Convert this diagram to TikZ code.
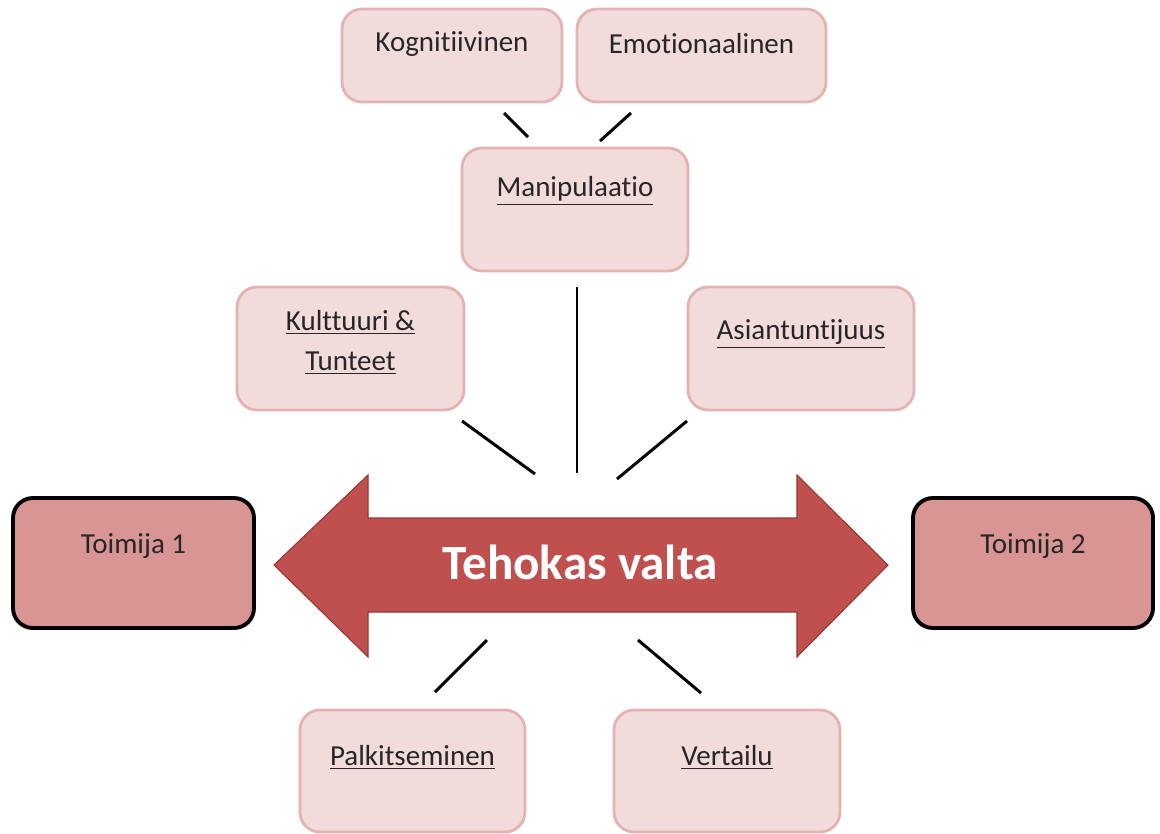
\documentclass[tikz,border=0pt]{standalone}
\usepackage{fontspec}
\setmainfont{Carlito}[Ligatures=NoCommon]
\usepackage{tikz}
\definecolor{boxfill}{HTML}{F2DCDB}
\definecolor{boxline}{HTML}{E3B3B2}
\definecolor{actorfill}{HTML}{D99594}
\definecolor{arrowfill}{HTML}{C0504D}
\definecolor{arrowline}{HTML}{943634}
\definecolor{txt}{HTML}{262626}

\begin{document}
\begin{tikzpicture}[
  every node/.style={outer sep=0pt, text=txt, font=\fontsize{16.5}{22}\selectfont},
  box/.style={draw=boxline, fill=boxfill, line width=1.6pt, rounded corners=0.4cm},
  actor/.style={draw=black, fill=actorfill, line width=2.2pt, rounded corners=0.4cm},
  link/.style={line width=1.7pt, black}]
\useasboundingbox (0,0) rectangle (23.2,-16.68);

\node[box, minimum width=4.4cm, minimum height=1.86cm] (kog) at (9.04,-1.11) {};
\node[box, minimum width=4.98cm, minimum height=1.86cm] (emo) at (14.03,-1.11) {};
\node[box, minimum width=4.52cm, minimum height=2.46cm] (man) at (11.5,-4.19) {};
\node[box, minimum width=4.54cm, minimum height=2.46cm] (kul) at (7.01,-6.97) {};
\node[box, minimum width=4.52cm, minimum height=2.46cm] (asi) at (16.02,-6.97) {};
\node[box, minimum width=4.5cm, minimum height=2.44cm] (pal) at (8.25,-15.42) {};
\node[box, minimum width=4.52cm, minimum height=2.44cm] (ver) at (14.54,-15.42) {};
\node[actor, minimum width=4.82cm, minimum height=2.6cm] (toi1) at (2.67,-11.26) {};
\node[actor, minimum width=4.8cm, minimum height=2.6cm] (toi2) at (20.66,-11.26) {};

\node[yshift=-0.7cm] (kogt) at (kog.north) {Kognitiivinen};
\node[yshift=-0.7cm] (emot) at (emo.north) {Emotionaalinen};
\node[yshift=-0.86cm] (mant) at (man.north) {\underline{Manipulaatio}};
\node[yshift=-1.11cm, align=center, font=\fontsize{16.5}{22.5}\selectfont] (kult) at (kul.north) {\underline{Kulttuuri \&}\\\underline{Tunteet}};
\node[yshift=-0.94cm] (asit) at (asi.north) {\underline{Asiantuntijuus}};
\node[yshift=-0.94cm] (palt) at (pal.north) {\underline{Palkitseminen}};
\node[yshift=-0.94cm] (vert) at (ver.north) {\underline{Vertailu}};
\node[yshift=-0.96cm] (toi1t) at (toi1.north) {Toimija 1};
\node[yshift=-0.96cm] (toi2t) at (toi2.north) {Toimija 2};

\draw[fill=arrowfill, draw=arrowline, line width=0.6pt] (5.48,-11.3) -- (7.36,-9.5) -- (7.36,-10.36) -- (15.94,-10.36) -- (15.94,-9.5) -- (17.76,-11.3) -- (15.94,-13.14) -- (15.94,-12.24) -- (7.36,-12.24) -- (7.36,-13.14) -- cycle;
\node[text=white, font=\fontsize{28}{32}\selectfont\bfseries] (valta) at (11.6,-11.24) {Tehokas valta};

\coordinate (k1) at (10.08,-2.26);
\coordinate (k2) at (10.56,-2.74);
\coordinate (e1) at (12.62,-2.26);
\coordinate (e2) at (12.0,-2.82);
\coordinate (m1) at (11.54,-5.74);
\coordinate (m2) at (11.54,-9.46);
\coordinate (c1) at (9.24,-8.42);
\coordinate (c2) at (10.7,-9.48);
\coordinate (a1) at (13.74,-8.42);
\coordinate (a2) at (12.34,-9.58);
\coordinate (p1) at (9.74,-12.8);
\coordinate (p2) at (8.7,-13.84);
\coordinate (v1) at (12.76,-12.8);
\coordinate (v2) at (14.02,-13.86);

\draw[link] (k1) -- (k2);
\draw[link] (e1) -- (e2);
\draw[link] (m1) -- (m2);
\draw[link] (c1) -- (c2);
\draw[link] (a1) -- (a2);
\draw[link] (p1) -- (p2);
\draw[link] (v1) -- (v2);
\end{tikzpicture}
\end{document}
